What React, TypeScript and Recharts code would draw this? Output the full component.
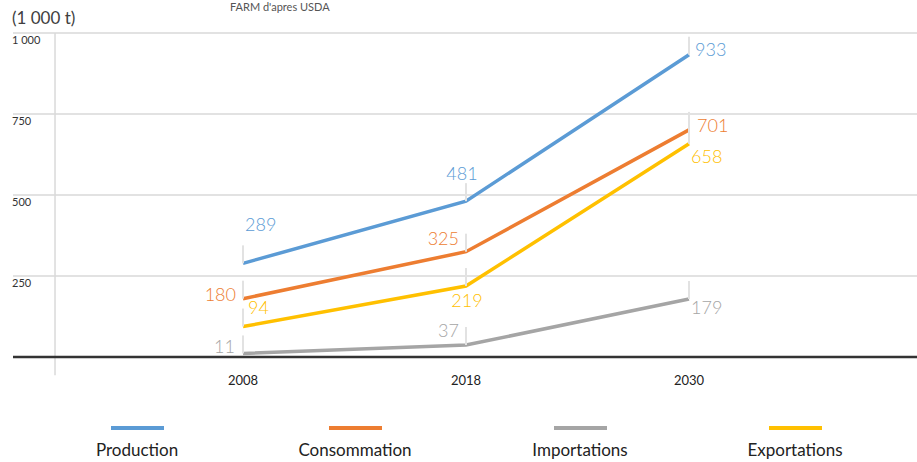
import {
  LineChart,
  Line,
  XAxis,
  YAxis,
  CartesianGrid,
  ReferenceLine,
  LabelList,
  Legend,
} from "recharts";

const years = ["2008", "2018", "2030"];
const production = [289, 481, 933];
const consommation = [180, 325, 701];
const importations = [11, 37, 179];
const exportations = [94, 219, 658];
const yTicks = [250, 500, 750, 1000];

const series = [
  { key: "production", name: "Production", color: "#5b9bd5", values: production },
  { key: "consommation", name: "Consommation", color: "#ed7d31", values: consommation },
  { key: "importations", name: "Importations", color: "#a5a5a5", values: importations },
  { key: "exportations", name: "Exportations", color: "#ffc000", values: exportations },
];

// where each value label sits relative to its point
const labelPlacement: Record<string, { dx: number; dy: number; anchor: string }[]> = {
  production: [
    { dx: 2, dy: -39, anchor: "start" },
    { dx: -4, dy: -28, anchor: "middle" },
    { dx: 6, dy: -6, anchor: "start" },
  ],
  consommation: [
    { dx: -7, dy: -5, anchor: "end" },
    { dx: -7, dy: -14, anchor: "end" },
    { dx: 8, dy: -5, anchor: "start" },
  ],
  importations: [
    { dx: -8, dy: -7, anchor: "end" },
    { dx: -7, dy: -15, anchor: "end" },
    { dx: 2, dy: 8, anchor: "start" },
  ],
  exportations: [
    { dx: 5, dy: -20, anchor: "start" },
    { dx: 1, dy: 14, anchor: "middle" },
    { dx: 2, dy: 12, anchor: "start" },
  ],
};

const data = years.map((year, i) => ({
  idx: i,
  year,
  production: production[i],
  consommation: consommation[i],
  importations: importations[i],
  exportations: exportations[i],
}));

const FONT = "Lato, 'Open Sans', sans-serif";

const makeLabel = (key: string, color: string) => (props: any) => {
  const { x, y, value, index } = props;
  const p = labelPlacement[key][index];
  return (
    <g>
      <line x1={x} y1={y} x2={x} y2={y - 18} stroke="#e2e2e2" strokeWidth={2} />
      <text
        x={x + p.dx}
        y={y + p.dy}
        textAnchor={p.anchor}
        dominantBaseline="central"
        fill={color}
        fontSize={18}
        fontFamily={FONT}
        fontWeight={300}
      >
        {value}
      </text>
    </g>
  );
};

const renderYTick = (props: any) => {
  const { y, payload } = props;
  return (
    <text x={12} y={y + 11} fill="#333" fontSize={11} fontFamily={FONT} textAnchor="start">
      {payload.value === 1000 ? "1 000" : payload.value}
    </text>
  );
};

const legendCenters = [137, 355, 580, 795];

const LegendContent = () => (
  <div style={{ position: "relative", width: 917, height: 48, fontFamily: FONT }}>
    {series.map((s, i) => (
      <div
        key={s.key}
        style={{
          position: "absolute",
          left: legendCenters[i] - 80,
          width: 160,
          top: 0,
          textAlign: "center",
        }}
      >
        <div
          style={{
            width: 53,
            height: 4,
            background: s.color,
            margin: "12px auto 0",
          }}
        />
        <div style={{ fontSize: 17, color: "#222", marginTop: 10, lineHeight: "20px" }}>
          {s.name}
        </div>
      </div>
    ))}
  </div>
);

export default function App() {
  return (
    <div style={{ position: "relative", width: 917, height: 462, background: "#fff", overflow: "hidden" }}>
      <style>{"body{margin:0}"}</style>
      <div
        style={{
          position: "absolute",
          left: 12,
          top: 8,
          fontSize: 17,
          lineHeight: "20px",
          color: "#404040",
          fontFamily: FONT,
        }}
      >
        (1 000 t)
      </div>
      <div
        style={{
          position: "absolute",
          left: 230,
          top: 0,
          fontSize: 11,
          lineHeight: "13px",
          color: "#555",
          fontFamily: FONT,
        }}
      >
        FARM d'apres USDA
      </div>
      <LineChart
        width={917}
        height={462}
        data={data}
        margin={{ top: 33, right: 0, bottom: 0, left: 12 }}
      >
        <CartesianGrid vertical={false} stroke="#d9d9d9" strokeWidth={1.5} />
        <XAxis
          dataKey="idx"
          type="number"
          domain={[-1.0314, 3.0224]}
          allowDataOverflow
          ticks={[0, 1, 2]}
          tickFormatter={(i: number) => years[i]}
          axisLine={false}
          tickLine={false}
          tickMargin={13}
          height={57}
          tick={{ fill: "#222", fontSize: 13, fontFamily: FONT }}
        />
        <YAxis
          domain={[0, 1000]}
          ticks={yTicks}
          width={1}
          axisLine={false}
          tickLine={false}
          interval={0}
          tick={renderYTick}
        />
        <ReferenceLine
          segment={[
            { x: -0.843, y: -56 },
            { x: -0.843, y: 1000 },
          ]}
          stroke="#d9d9d9"
          strokeWidth={1.5}
          ifOverflow="visible"
        />
        <ReferenceLine y={0} stroke="#333" strokeWidth={2.5} />
        <Legend
          verticalAlign="bottom"
          content={<LegendContent />}
          wrapperStyle={{ left: 0, width: 917, height: 48 }}
        />
        {series.map((s) => (
          <Line
            key={s.key}
            dataKey={s.key}
            name={s.name}
            stroke={s.color}
            strokeWidth={3.5}
            dot={false}
            isAnimationActive={false}
          >
            <LabelList dataKey={s.key} content={makeLabel(s.key, s.color)} />
          </Line>
        ))}
      </LineChart>
    </div>
  );
}
